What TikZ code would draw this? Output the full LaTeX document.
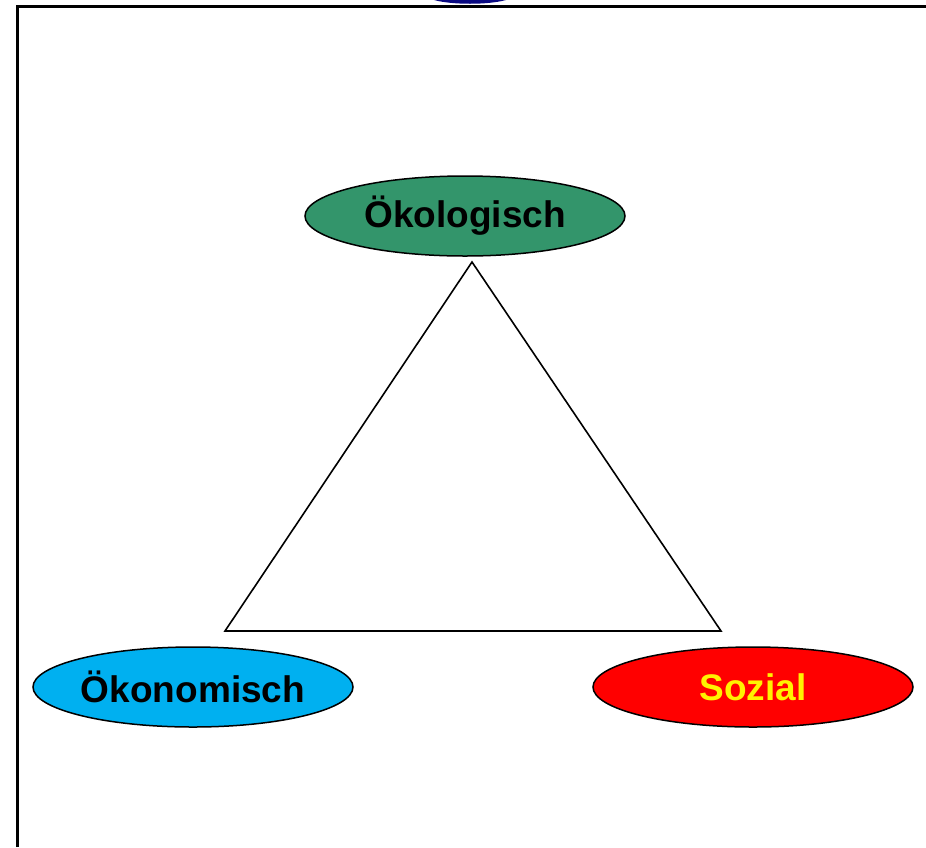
\documentclass[tikz,border=0pt]{standalone}
\usepackage{fontspec}
\setmainfont{Liberation Sans}
\usetikzlibrary{shapes.geometric}
\definecolor{oekogreen}{RGB}{51,149,107}
\definecolor{oekoblue}{RGB}{0,176,240}
\definecolor{navyblue}{RGB}{10,10,130}

\begin{document}
\begin{tikzpicture}[x=1pt,y=-1pt,pillar/.style={
ellipse,minimum width=320pt,minimum height=80pt,inner sep=0pt, % the three pillars
line width=1.5pt,draw=black,
font={\fontsize{37}{40}\selectfont\bfseries}}]

\tikzset{
  frame/.style={line width=3pt,draw=black},
  side/.style={line width=1.6pt,draw=black,line join=miter}
}

    \useasboundingbox (0,0) rectangle (926,847);
    \fill[navyblue] (434,0) .. controls (452,5) and (488,5) .. (506,0) -- cycle;
    \draw[frame] (17,847) -- (17,6) -- (926,6);

    \node[pillar,fill=oekogreen] at (465,216) (oeko) {Ökologisch};
    \node[pillar,fill=oekoblue] at (193,687) (oekon) {Ökonomisch};
    \node[pillar,fill=red,text=yellow] at (753,687) (sozial) {Sozial};

    \coordinate (top) at (472,262);
    \coordinate (left) at (225,631);
    \coordinate (right) at (721,631);
    \draw[side] (top) -- (left) -- (right) -- cycle;

\end{tikzpicture}
\end{document}
